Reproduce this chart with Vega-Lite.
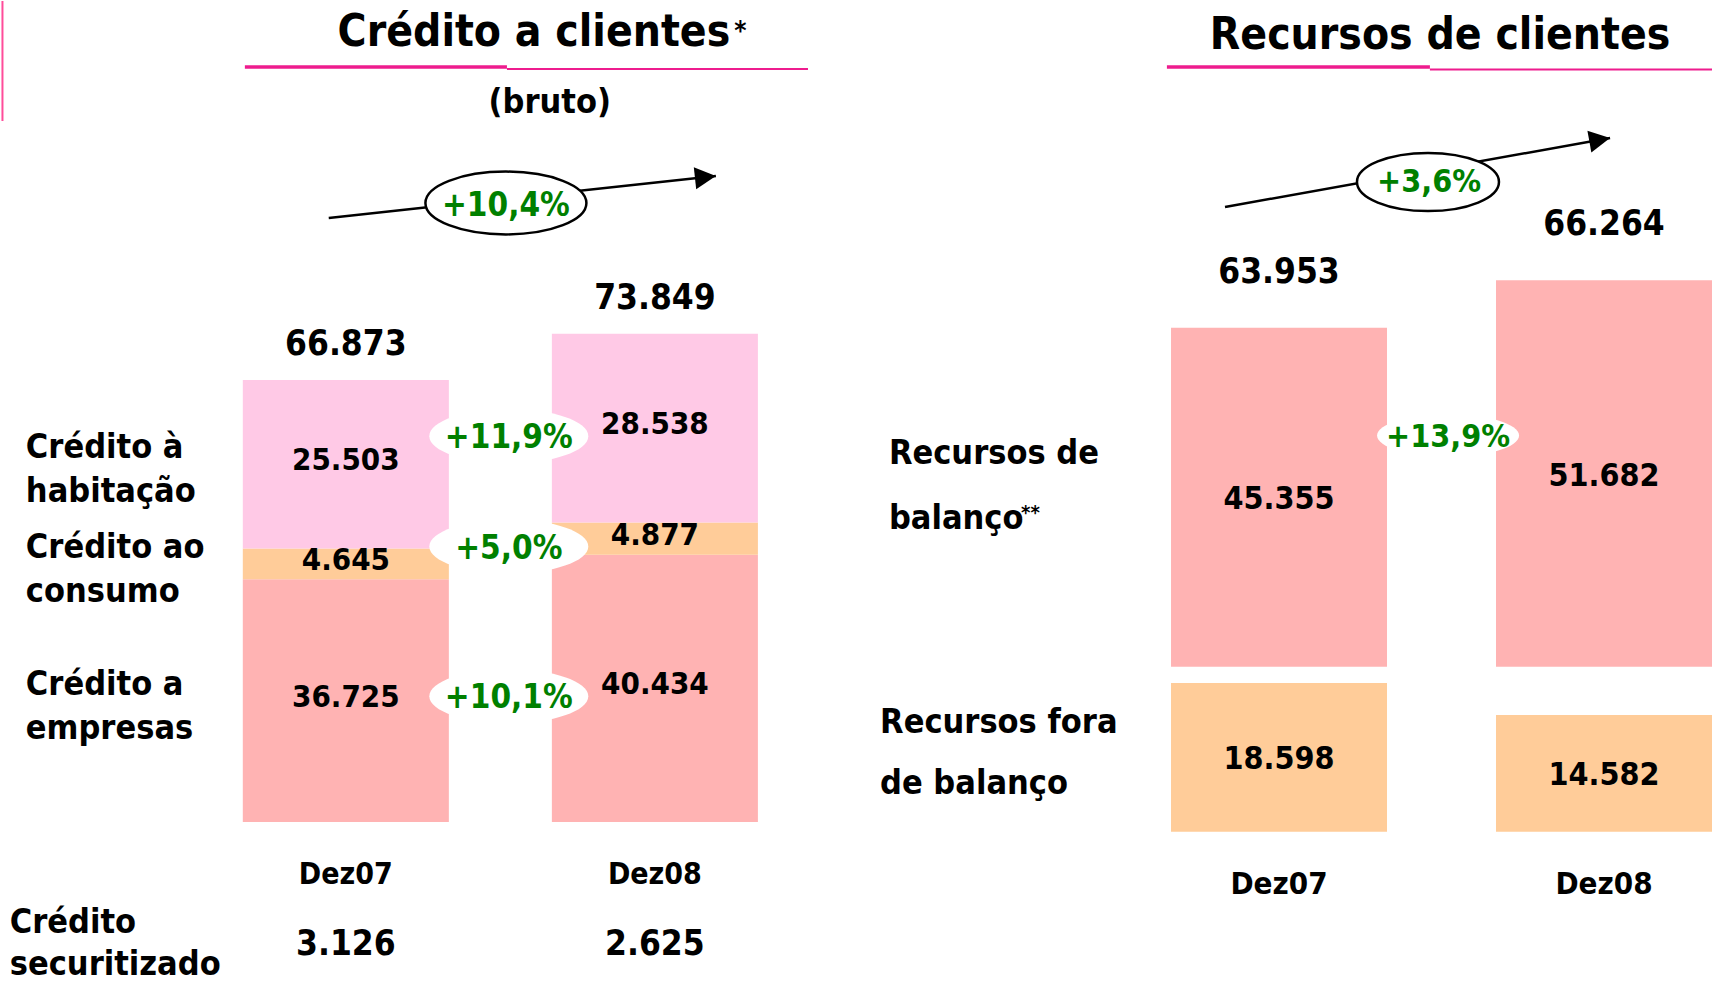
{
  "$schema": "https://vega.github.io/schema/vega-lite/v6.json",
  "background": "white",
  "padding": 0,
  "spacing": 0,
  "bounds": "flush",
  "config": {
    "view": {"stroke": null},
    "locale": {"number": {"decimal": ",", "thousands": ".", "grouping": [3], "currency": ["€", ""]}},
    "text": {"font": "DejaVu Sans Condensed, Liberation Sans, sans-serif", "fontWeight": "bold", "color": "#000000"}
  },
  "datasets": {
    "credito": [
      {"period": "Dez07", "segment": "Crédito a\nempresas", "order": 1, "value": 36725},
      {"period": "Dez07", "segment": "Crédito ao\nconsumo", "order": 2, "value": 4645},
      {"period": "Dez07", "segment": "Crédito à\nhabitação", "order": 3, "value": 25503},
      {"period": "Dez08", "segment": "Crédito a\nempresas", "order": 1, "value": 40434, "growth": 0.101},
      {"period": "Dez08", "segment": "Crédito ao\nconsumo", "order": 2, "value": 4877, "growth": 0.05},
      {"period": "Dez08", "segment": "Crédito à\nhabitação", "order": 3, "value": 28538, "growth": 0.119}
    ],
    "securitizado": [
      {"period": "Dez07", "value": 3126},
      {"period": "Dez08", "value": 2625}
    ],
    "recursos": [
      {"period": "Dez07", "type": "balanco", "label": "Recursos de\nbalanço", "value": 45355},
      {"period": "Dez08", "type": "balanco", "label": "Recursos de\nbalanço", "value": 51682, "growth": 0.139},
      {"period": "Dez07", "type": "fora", "label": "Recursos fora\nde balanço", "value": 18598},
      {"period": "Dez08", "type": "fora", "label": "Recursos fora\nde balanço", "value": 14582}
    ],
    "totais": [
      {"panel": "credito", "title": "Crédito a clientes", "sub": "(bruto)", "growth": 0.104},
      {"panel": "recursos", "title": "Recursos de clientes", "sub": "", "growth": 0.036}
    ]
  },
  "hconcat": [
    {
      "width": 860,
      "height": 983,
      "layer": [
        {
          "data": {"name": "credito"},
          "mark": {"type": "bar"},
          "encoding": {
            "x": {"field": "period", "type": "nominal", "scale": {"domain": ["Dez07", "Dez08"], "paddingInner": 0.3333, "paddingOuter": 0.558, "align": 0.704}, "axis": null},
            "y": {"field": "value", "type": "quantitative", "stack": "zero", "scale": {"domain": [-24508, 124206], "nice": false, "zero": false}, "axis": null},
            "color": {"field": "order", "type": "nominal", "scale": {"domain": [1, 2, 3], "range": ["#FFB3B3", "#FFCC99", "#FFC9E6"]}, "legend": null},
            "order": {"field": "order", "type": "quantitative"}
          }
        },
        {
          "data": {"name": "credito"},
          "transform": [
            {"stack": "value", "groupby": ["period"], "sort": [{"field": "order"}], "as": ["v0", "v1"]},
            {"calculate": "(datum.v0 + datum.v1) / 2", "as": "mid"}
          ],
          "mark": {"type": "text", "fontSize": 31, "baseline": "middle", "dy": -3},
          "encoding": {
            "x": {"field": "period", "type": "nominal", "scale": {"domain": ["Dez07", "Dez08"], "paddingInner": 0.3333, "paddingOuter": 0.558, "align": 0.704}, "axis": null},
            "y": {"field": "mid", "type": "quantitative", "scale": {"domain": [-24508, 124206], "nice": false, "zero": false}, "axis": null},
            "text": {"field": "value", "type": "quantitative", "format": ",d"}
          }
        },
        {
          "data": {"name": "credito"},
          "transform": [
            {"stack": "value", "groupby": ["period"], "sort": [{"field": "order"}], "as": ["v0", "v1"]},
            {"calculate": "(datum.v0 + datum.v1) / 2", "as": "mid"},
            {"filter": "datum.period === 'Dez08'"}
          ],
          "mark": {"type": "point", "shape": "M -1 0.1 C -1 -0.088 -0.552 -0.24 0 -0.24 C 0.552 -0.24 1 -0.088 1 0.1 C 1 0.288 0.552 0.44 0 0.44 C -0.552 0.44 -1 0.288 -1 0.1 Z", "size": 25281, "filled": true, "color": "white", "opacity": 1, "strokeWidth": 0},
          "encoding": {
            "x": {"field": "period", "type": "nominal", "bandPosition": -0.209, "scale": {"domain": ["Dez07", "Dez08"], "paddingInner": 0.3333, "paddingOuter": 0.558, "align": 0.704}, "axis": null},
            "y": {"field": "mid", "type": "quantitative", "scale": {"domain": [-24508, 124206], "nice": false, "zero": false}, "axis": null}
          }
        },
        {
          "data": {"name": "credito"},
          "transform": [
            {"stack": "value", "groupby": ["period"], "sort": [{"field": "order"}], "as": ["v0", "v1"]},
            {"calculate": "(datum.v0 + datum.v1) / 2", "as": "mid"},
            {"filter": "datum.period === 'Dez08'"}
          ],
          "mark": {"type": "text", "fontSize": 33, "baseline": "middle", "dy": 10, "color": "#008000"},
          "encoding": {
            "x": {"field": "period", "type": "nominal", "bandPosition": -0.209, "scale": {"domain": ["Dez07", "Dez08"], "paddingInner": 0.3333, "paddingOuter": 0.558, "align": 0.704}, "axis": null},
            "y": {"field": "mid", "type": "quantitative", "scale": {"domain": [-24508, 124206], "nice": false, "zero": false}, "axis": null},
            "text": {"field": "growth", "type": "quantitative", "format": "+.1%"}
          }
        },
        {
          "data": {"name": "credito"},
          "transform": [
            {"stack": "value", "groupby": ["period"], "sort": [{"field": "order"}], "as": ["v0", "v1"]},
            {"calculate": "(datum.v0 + datum.v1) / 2", "as": "mid"},
            {"filter": "datum.period === 'Dez07'"}
          ],
          "mark": {"type": "text", "fontSize": 34, "align": "left", "baseline": "alphabetic", "dy": -6, "lineBreak": "\n", "lineHeight": 44},
          "encoding": {
            "x": {"field": "period", "type": "nominal", "bandPosition": -1.053, "scale": {"domain": ["Dez07", "Dez08"], "paddingInner": 0.3333, "paddingOuter": 0.558, "align": 0.704}, "axis": null},
            "y": {"field": "mid", "type": "quantitative", "scale": {"domain": [-24508, 124206], "nice": false, "zero": false}, "axis": null},
            "text": {"field": "segment", "type": "nominal"}
          }
        },
        {
          "data": {"name": "credito"},
          "transform": [
            {"aggregate": [{"op": "sum", "field": "value", "as": "total"}], "groupby": ["period"]}
          ],
          "mark": {"type": "text", "fontSize": 35, "baseline": "alphabetic", "dy": -25},
          "encoding": {
            "x": {"field": "period", "type": "nominal", "scale": {"domain": ["Dez07", "Dez08"], "paddingInner": 0.3333, "paddingOuter": 0.558, "align": 0.704}, "axis": null},
            "y": {"field": "total", "type": "quantitative", "scale": {"domain": [-24508, 124206], "nice": false, "zero": false}, "axis": null},
            "text": {"field": "total", "type": "quantitative", "format": ",d"}
          }
        },
        {
          "data": {"name": "credito"},
          "transform": [
            {"aggregate": [{"op": "sum", "field": "value", "as": "total"}], "groupby": ["period"]}
          ],
          "mark": {"type": "text", "fontSize": 30, "baseline": "alphabetic"},
          "encoding": {
            "x": {"field": "period", "type": "nominal", "scale": {"domain": ["Dez07", "Dez08"], "paddingInner": 0.3333, "paddingOuter": 0.558, "align": 0.704}, "axis": null},
            "y": {"datum": -9380, "type": "quantitative", "scale": {"domain": [-24508, 124206], "nice": false, "zero": false}, "axis": null},
            "text": {"field": "period", "type": "nominal"}
          }
        },
        {
          "data": {"name": "securitizado"},
          "mark": {"type": "text", "fontSize": 35, "baseline": "alphabetic"},
          "encoding": {
            "x": {"field": "period", "type": "nominal", "scale": {"domain": ["Dez07", "Dez08"], "paddingInner": 0.3333, "paddingOuter": 0.558, "align": 0.704}, "axis": null},
            "y": {"datum": -20120, "type": "quantitative", "scale": {"domain": [-24508, 124206], "nice": false, "zero": false}, "axis": null},
            "text": {"field": "value", "type": "quantitative", "format": ",d"}
          }
        },
        {
          "data": {"values": [{"label": "Crédito\nsecuritizado"}]},
          "mark": {"type": "text", "fontSize": 34, "align": "left", "baseline": "alphabetic", "lineBreak": "\n", "lineHeight": 42},
          "encoding": {
            "x": {"datum": "Dez07", "type": "nominal", "bandPosition": -1.131, "scale": {"domain": ["Dez07", "Dez08"], "paddingInner": 0.3333, "paddingOuter": 0.558, "align": 0.704}, "axis": null},
            "y": {"datum": -16793, "type": "quantitative", "scale": {"domain": [-24508, 124206], "nice": false, "zero": false}, "axis": null},
            "text": {"field": "label", "type": "nominal"}
          }
        },
        {
          "data": {"name": "totais"},
          "transform": [{"filter": "datum.panel === 'credito'"}],
          "mark": {"type": "rule", "color": "black", "strokeWidth": 2.5},
          "encoding": {
            "x": {"datum": "Dez07", "type": "nominal", "bandPosition": 0.417, "scale": {"domain": ["Dez07", "Dez08"], "paddingInner": 0.3333, "paddingOuter": 0.558, "align": 0.704}, "axis": null},
            "x2": {"datum": "Dez08", "bandPosition": 0.796},
            "y": {"datum": 91377, "type": "quantitative", "scale": {"domain": [-24508, 124206], "nice": false, "zero": false}, "axis": null},
            "y2": {"datum": 97731}
          }
        },
        {
          "data": {"name": "totais"},
          "transform": [{"filter": "datum.panel === 'credito'"}],
          "mark": {"type": "point", "shape": "M 0 0 L -2 -1.05 L -2 1.05 Z", "size": 441, "angle": -6.2, "filled": true, "color": "black", "opacity": 1},
          "encoding": {
            "x": {"datum": "Dez08", "type": "nominal", "bandPosition": 0.796, "scale": {"domain": ["Dez07", "Dez08"], "paddingInner": 0.3333, "paddingOuter": 0.558, "align": 0.704}, "axis": null},
            "y": {"datum": 97731, "type": "quantitative", "scale": {"domain": [-24508, 124206], "nice": false, "zero": false}, "axis": null}
          }
        },
        {
          "data": {"name": "totais"},
          "transform": [{"filter": "datum.panel === 'credito'"}],
          "mark": {"type": "point", "shape": "M -1 0 C -1 -0.215 -0.552 -0.39 0 -0.39 C 0.552 -0.39 1 -0.215 1 0 C 1 0.215 0.552 0.39 0 0.39 C -0.552 0.39 -1 0.215 -1 0 Z", "size": 25921, "filled": true, "color": "white", "stroke": "black", "strokeWidth": 2.5, "opacity": 1},
          "encoding": {
            "x": {"datum": "Dez08", "type": "nominal", "bandPosition": -0.223, "scale": {"domain": ["Dez07", "Dez08"], "paddingInner": 0.3333, "paddingOuter": 0.558, "align": 0.704}, "axis": null},
            "y": {"datum": 93646, "type": "quantitative", "scale": {"domain": [-24508, 124206], "nice": false, "zero": false}, "axis": null}
          }
        },
        {
          "data": {"name": "totais"},
          "transform": [{"filter": "datum.panel === 'credito'"}],
          "mark": {"type": "text", "fontSize": 33, "baseline": "middle", "color": "#008000"},
          "encoding": {
            "x": {"datum": "Dez08", "type": "nominal", "bandPosition": -0.223, "scale": {"domain": ["Dez07", "Dez08"], "paddingInner": 0.3333, "paddingOuter": 0.558, "align": 0.704}, "axis": null},
            "y": {"datum": 93147, "type": "quantitative", "scale": {"domain": [-24508, 124206], "nice": false, "zero": false}, "axis": null},
            "text": {"field": "growth", "type": "quantitative", "format": "+.1%"}
          }
        },
        {
          "data": {"name": "totais"},
          "transform": [{"filter": "datum.panel === 'credito'"}],
          "mark": {"type": "text", "fontSize": 44, "baseline": "alphabetic"},
          "encoding": {
            "x": {"datum": "Dez08", "type": "nominal", "bandPosition": -0.087, "scale": {"domain": ["Dez07", "Dez08"], "paddingInner": 0.3333, "paddingOuter": 0.558, "align": 0.704}, "axis": null},
            "y": {"datum": 117398, "type": "quantitative", "scale": {"domain": [-24508, 124206], "nice": false, "zero": false}, "axis": null},
            "text": {"field": "title", "type": "nominal"}
          }
        },
        {
          "data": {"values": [{"mark": "*"}]},
          "mark": {"type": "text", "fontSize": 26, "baseline": "alphabetic"},
          "encoding": {
            "x": {"datum": "Dez08", "type": "nominal", "bandPosition": 0.915, "scale": {"domain": ["Dez07", "Dez08"], "paddingInner": 0.3333, "paddingOuter": 0.558, "align": 0.704}, "axis": null},
            "y": {"datum": 118306, "type": "quantitative", "scale": {"domain": [-24508, 124206], "nice": false, "zero": false}, "axis": null},
            "text": {"field": "mark", "type": "nominal"}
          }
        },
        {
          "data": {"name": "totais"},
          "transform": [{"filter": "datum.panel === 'credito'"}],
          "mark": {"type": "rule", "color": "#EE1C8E", "strokeWidth": 3.5},
          "encoding": {
            "x": {"datum": "Dez07", "type": "nominal", "bandPosition": 0.01, "scale": {"domain": ["Dez07", "Dez08"], "paddingInner": 0.3333, "paddingOuter": 0.558, "align": 0.704}, "axis": null},
            "x2": {"datum": "Dez08", "bandPosition": -0.218},
            "y": {"datum": 114221, "type": "quantitative", "scale": {"domain": [-24508, 124206], "nice": false, "zero": false}, "axis": null}
          }
        },
        {
          "data": {"name": "totais"},
          "transform": [{"filter": "datum.panel === 'credito'"}],
          "mark": {"type": "rule", "color": "#EE1C8E", "strokeWidth": 2},
          "encoding": {
            "x": {"datum": "Dez08", "type": "nominal", "bandPosition": -0.218, "scale": {"domain": ["Dez07", "Dez08"], "paddingInner": 0.3333, "paddingOuter": 0.558, "align": 0.704}, "axis": null},
            "x2": {"datum": "Dez08", "bandPosition": 1.243},
            "y": {"datum": 113918, "type": "quantitative", "scale": {"domain": [-24508, 124206], "nice": false, "zero": false}, "axis": null}
          }
        },
        {
          "data": {"name": "totais"},
          "transform": [{"filter": "datum.panel === 'credito'"}],
          "mark": {"type": "text", "fontSize": 34, "baseline": "alphabetic"},
          "encoding": {
            "x": {"datum": "Dez08", "type": "nominal", "bandPosition": -0.01, "scale": {"domain": ["Dez07", "Dez08"], "paddingInner": 0.3333, "paddingOuter": 0.558, "align": 0.704}, "axis": null},
            "y": {"datum": 107262, "type": "quantitative", "scale": {"domain": [-24508, 124206], "nice": false, "zero": false}, "axis": null},
            "text": {"field": "sub", "type": "nominal"}
          }
        },
        {
          "data": {"name": "totais"},
          "transform": [{"filter": "datum.panel === 'credito'"}],
          "mark": {"type": "rule", "color": "#FF4C9A", "strokeWidth": 2},
          "encoding": {
            "x": {"datum": "Dez07", "type": "nominal", "bandPosition": -1.1665, "scale": {"domain": ["Dez07", "Dez08"], "paddingInner": 0.3333, "paddingOuter": 0.558, "align": 0.704}, "axis": null},
            "y": {"datum": 124206, "type": "quantitative", "scale": {"domain": [-24508, 124206], "nice": false, "zero": false}, "axis": null},
            "y2": {"datum": 106051}
          }
        }
      ]
    },
    {
      "width": 852,
      "height": 983,
      "resolve": {"scale": {"y": "independent"}},
      "layer": [
        {
          "layer": [
            {
              "data": {"name": "recursos"},
              "transform": [{"filter": "datum.type === 'balanco'"}],
              "mark": {"type": "bar", "color": "#FFB3B3"},
              "encoding": {
                "x": {"field": "period", "type": "nominal", "scale": {"domain": ["Dez07", "Dez08"], "paddingInner": 0.3354, "paddingOuter": 0.4785, "align": 1}, "axis": null},
                "y": {"field": "value", "type": "quantitative", "scale": {"domain": [-42443, 89045], "nice": false, "zero": false}, "axis": null}
              }
            },
            {
              "data": {"name": "recursos"},
              "transform": [{"filter": "datum.type === 'balanco'"}, {"calculate": "datum.value / 2", "as": "mid"}],
              "mark": {"type": "text", "fontSize": 32, "baseline": "middle", "dy": 2},
              "encoding": {
                "x": {"field": "period", "type": "nominal", "scale": {"domain": ["Dez07", "Dez08"], "paddingInner": 0.3354, "paddingOuter": 0.4785, "align": 1}, "axis": null},
                "y": {"field": "mid", "type": "quantitative", "scale": {"domain": [-42443, 89045], "nice": false, "zero": false}, "axis": null},
                "text": {"field": "value", "type": "quantitative", "format": ",d"}
              }
            },
            {
              "data": {"name": "recursos"},
              "transform": [
                {"joinaggregate": [{"op": "sum", "field": "value", "as": "total"}], "groupby": ["period"]},
                {"filter": "datum.type === 'balanco'"}
              ],
              "mark": {"type": "text", "fontSize": 35, "baseline": "alphabetic", "dy": -45},
              "encoding": {
                "x": {"field": "period", "type": "nominal", "scale": {"domain": ["Dez07", "Dez08"], "paddingInner": 0.3354, "paddingOuter": 0.4785, "align": 1}, "axis": null},
                "y": {"field": "value", "type": "quantitative", "scale": {"domain": [-42443, 89045], "nice": false, "zero": false}, "axis": null},
                "text": {"field": "total", "type": "quantitative", "format": ",d"}
              }
            },
            {
              "data": {"name": "recursos"},
              "transform": [{"filter": "isValid(datum.growth)"}],
              "mark": {"type": "point", "shape": "M -1 0 C -1 -0.166 -0.552 -0.3 0 -0.3 C 0.552 -0.3 1 -0.166 1 0 C 1 0.166 0.552 0.3 0 0.3 C -0.552 0.3 -1 0.166 -1 0 Z", "size": 20164, "filled": true, "color": "white", "opacity": 1, "strokeWidth": 0},
              "encoding": {
                "x": {"field": "period", "type": "nominal", "bandPosition": -0.222, "scale": {"domain": ["Dez07", "Dez08"], "paddingInner": 0.3354, "paddingOuter": 0.4785, "align": 1}, "axis": null},
                "y": {"datum": 30926, "type": "quantitative", "scale": {"domain": [-42443, 89045], "nice": false, "zero": false}, "axis": null}
              }
            },
            {
              "data": {"name": "recursos"},
              "transform": [{"filter": "isValid(datum.growth)"}],
              "mark": {"type": "text", "fontSize": 32, "baseline": "middle", "color": "#008000"},
              "encoding": {
                "x": {"field": "period", "type": "nominal", "bandPosition": -0.222, "scale": {"domain": ["Dez07", "Dez08"], "paddingInner": 0.3354, "paddingOuter": 0.4785, "align": 1}, "axis": null},
                "y": {"datum": 30685, "type": "quantitative", "scale": {"domain": [-42443, 89045], "nice": false, "zero": false}, "axis": null},
                "text": {"field": "growth", "type": "quantitative", "format": "+.1%"}
              }
            },
            {
              "data": {"name": "totais"},
              "transform": [{"filter": "datum.panel === 'recursos'"}],
              "mark": {"type": "rule", "color": "black", "strokeWidth": 2.5},
              "encoding": {
                "x": {"datum": "Dez07", "type": "nominal", "bandPosition": 0.25, "scale": {"domain": ["Dez07", "Dez08"], "paddingInner": 0.3354, "paddingOuter": 0.4785, "align": 1}, "axis": null},
                "x2": {"datum": "Dez08", "bandPosition": 0.528},
                "y": {"datum": 61490, "type": "quantitative", "scale": {"domain": [-42443, 89045], "nice": false, "zero": false}, "axis": null},
                "y2": {"datum": 70720}
              }
            },
            {
              "data": {"name": "totais"},
              "transform": [{"filter": "datum.panel === 'recursos'"}],
              "mark": {"type": "point", "shape": "M 0 0 L -2 -1.05 L -2 1.05 Z", "size": 441, "angle": -10.2, "filled": true, "color": "black", "opacity": 1},
              "encoding": {
                "x": {"datum": "Dez08", "type": "nominal", "bandPosition": 0.528, "scale": {"domain": ["Dez07", "Dez08"], "paddingInner": 0.3354, "paddingOuter": 0.4785, "align": 1}, "axis": null},
                "y": {"datum": 70720, "type": "quantitative", "scale": {"domain": [-42443, 89045], "nice": false, "zero": false}, "axis": null}
              }
            },
            {
              "data": {"name": "totais"},
              "transform": [{"filter": "datum.panel === 'recursos'"}],
              "mark": {"type": "point", "shape": "M -1 0 C -1 -0.226 -0.552 -0.41 0 -0.41 C 0.552 -0.41 1 -0.226 1 0 C 1 0.226 0.552 0.41 0 0.41 C -0.552 0.41 -1 0.226 -1 0 Z", "size": 20164, "filled": true, "color": "white", "stroke": "black", "strokeWidth": 2.5, "opacity": 1},
              "encoding": {
                "x": {"datum": "Dez08", "type": "nominal", "bandPosition": -0.315, "scale": {"domain": ["Dez07", "Dez08"], "paddingInner": 0.3354, "paddingOuter": 0.4785, "align": 1}, "axis": null},
                "y": {"datum": 64835, "type": "quantitative", "scale": {"domain": [-42443, 89045], "nice": false, "zero": false}, "axis": null}
              }
            },
            {
              "data": {"name": "totais"},
              "transform": [{"filter": "datum.panel === 'recursos'"}],
              "mark": {"type": "text", "fontSize": 32, "baseline": "middle", "color": "#008000"},
              "encoding": {
                "x": {"datum": "Dez08", "type": "nominal", "bandPosition": -0.31, "scale": {"domain": ["Dez07", "Dez08"], "paddingInner": 0.3354, "paddingOuter": 0.4785, "align": 1}, "axis": null},
                "y": {"datum": 64794, "type": "quantitative", "scale": {"domain": [-42443, 89045], "nice": false, "zero": false}, "axis": null},
                "text": {"field": "growth", "type": "quantitative", "format": "+.1%"}
              }
            },
            {
              "data": {"name": "totais"},
              "transform": [{"filter": "datum.panel === 'recursos'"}],
              "mark": {"type": "text", "fontSize": 44, "baseline": "alphabetic"},
              "encoding": {
                "x": {"datum": "Dez08", "type": "nominal", "bandPosition": -0.259, "scale": {"domain": ["Dez07", "Dez08"], "paddingInner": 0.3354, "paddingOuter": 0.4785, "align": 1}, "axis": null},
                "y": {"datum": 82624, "type": "quantitative", "scale": {"domain": [-42443, 89045], "nice": false, "zero": false}, "axis": null},
                "text": {"field": "title", "type": "nominal"}
              }
            },
            {
              "data": {"name": "totais"},
              "transform": [{"filter": "datum.panel === 'recursos'"}],
              "mark": {"type": "rule", "color": "#EE1C8E", "strokeWidth": 3.5},
              "encoding": {
                "x": {"datum": "Dez07", "type": "nominal", "bandPosition": -0.019, "scale": {"domain": ["Dez07", "Dez08"], "paddingInner": 0.3354, "paddingOuter": 0.4785, "align": 1}, "axis": null},
                "x2": {"datum": "Dez08", "bandPosition": -0.306},
                "y": {"datum": 80217, "type": "quantitative", "scale": {"domain": [-42443, 89045], "nice": false, "zero": false}, "axis": null}
              }
            },
            {
              "data": {"name": "totais"},
              "transform": [{"filter": "datum.panel === 'recursos'"}],
              "mark": {"type": "rule", "color": "#EE1C8E", "strokeWidth": 2},
              "encoding": {
                "x": {"datum": "Dez08", "type": "nominal", "bandPosition": -0.306, "scale": {"domain": ["Dez07", "Dez08"], "paddingInner": 0.3354, "paddingOuter": 0.4785, "align": 1}, "axis": null},
                "x2": {"datum": "Dez08", "bandPosition": 1.0},
                "y": {"datum": 79883, "type": "quantitative", "scale": {"domain": [-42443, 89045], "nice": false, "zero": false}, "axis": null}
              }
            },
            {
              "data": {"name": "recursos"},
              "transform": [{"filter": "datum.type === 'balanco' && datum.period === 'Dez07'"}, {"calculate": "datum.value / 2", "as": "mid"}],
              "mark": {"type": "text", "fontSize": 34, "align": "left", "baseline": "alphabetic", "dy": -33, "lineBreak": "\n", "lineHeight": 65},
              "encoding": {
                "x": {"field": "period", "type": "nominal", "bandPosition": -1.306, "scale": {"domain": ["Dez07", "Dez08"], "paddingInner": 0.3354, "paddingOuter": 0.4785, "align": 1}, "axis": null},
                "y": {"field": "mid", "type": "quantitative", "scale": {"domain": [-42443, 89045], "nice": false, "zero": false}, "axis": null},
                "text": {"field": "label", "type": "nominal"}
              }
            },
            {
              "data": {"values": [{"mark": "**"}]},
              "mark": {"type": "text", "fontSize": 20, "align": "left", "baseline": "alphabetic"},
              "encoding": {
                "x": {"datum": "Dez07", "type": "nominal", "bandPosition": -0.694, "scale": {"domain": ["Dez07", "Dez08"], "paddingInner": 0.3354, "paddingOuter": 0.4785, "align": 1}, "axis": null},
                "y": {"datum": 19757, "type": "quantitative", "scale": {"domain": [-42443, 89045], "nice": false, "zero": false}, "axis": null},
                "text": {"field": "mark", "type": "nominal"}
              }
            }
          ]
        },
        {
          "layer": [
            {
              "data": {"name": "recursos"},
              "transform": [{"filter": "datum.type === 'fora'"}],
              "mark": {"type": "bar", "color": "#FFCC99"},
              "encoding": {
                "x": {"field": "period", "type": "nominal", "scale": {"domain": ["Dez07", "Dez08"], "paddingInner": 0.3354, "paddingOuter": 0.4785, "align": 1}, "axis": null},
                "y": {"field": "value", "type": "quantitative", "scale": {"domain": [-19038, 103838], "nice": false, "zero": false}, "axis": null}
              }
            },
            {
              "data": {"name": "recursos"},
              "transform": [{"filter": "datum.type === 'fora'"}, {"calculate": "datum.value / 2", "as": "mid"}],
              "mark": {"type": "text", "fontSize": 32, "baseline": "middle", "dy": 2},
              "encoding": {
                "x": {"field": "period", "type": "nominal", "scale": {"domain": ["Dez07", "Dez08"], "paddingInner": 0.3354, "paddingOuter": 0.4785, "align": 1}, "axis": null},
                "y": {"field": "mid", "type": "quantitative", "scale": {"domain": [-19038, 103838], "nice": false, "zero": false}, "axis": null},
                "text": {"field": "value", "type": "quantitative", "format": ",d"}
              }
            },
            {
              "data": {"name": "recursos"},
              "transform": [{"filter": "datum.type === 'fora' && datum.period === 'Dez07'"}, {"calculate": "datum.value / 2", "as": "mid"}],
              "mark": {"type": "text", "fontSize": 34, "align": "left", "baseline": "alphabetic", "dy": -24, "lineBreak": "\n", "lineHeight": 61},
              "encoding": {
                "x": {"field": "period", "type": "nominal", "bandPosition": -1.347, "scale": {"domain": ["Dez07", "Dez08"], "paddingInner": 0.3354, "paddingOuter": 0.4785, "align": 1}, "axis": null},
                "y": {"field": "mid", "type": "quantitative", "scale": {"domain": [-19038, 103838], "nice": false, "zero": false}, "axis": null},
                "text": {"field": "label", "type": "nominal"}
              }
            },
            {
              "data": {"name": "recursos"},
              "transform": [{"filter": "datum.type === 'fora'"}],
              "mark": {"type": "text", "fontSize": 31, "baseline": "alphabetic"},
              "encoding": {
                "x": {"field": "period", "type": "nominal", "scale": {"domain": ["Dez07", "Dez08"], "paddingInner": 0.3354, "paddingOuter": 0.4785, "align": 1}, "axis": null},
                "y": {"datum": -7788, "type": "quantitative", "scale": {"domain": [-19038, 103838], "nice": false, "zero": false}, "axis": null},
                "text": {"field": "period", "type": "nominal"}
              }
            }
          ]
        }
      ]
    }
  ]
}
